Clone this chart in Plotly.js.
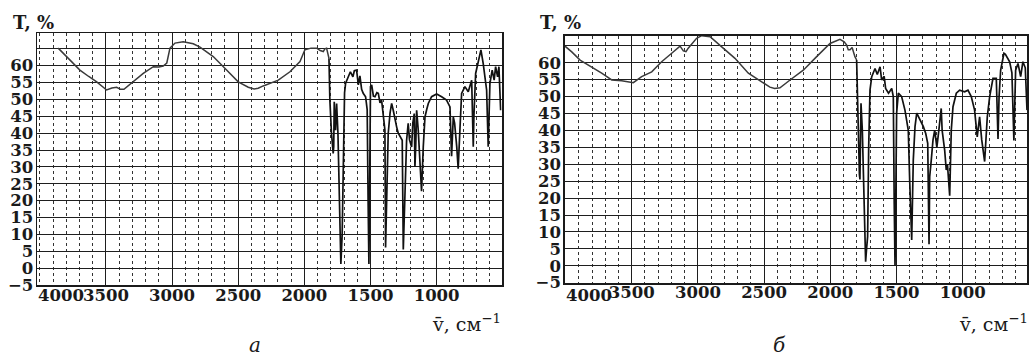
<!DOCTYPE html>
<html>
<head>
<meta charset="utf-8">
<script src="https://cdn.plot.ly/plotly-3.0.1.min.js"></script>
<style>html,body{margin:0;padding:0;background:#fff;}#chart{width:1030px;height:356px;}</style>
</head>
<body>
<div id="chart"></div>
<script>
// ---- Panel "а": broad region (cm^-1, T %) ----
const aBroadNu = [3861,3820,3772,3697,3630,3570,3495,3455,3419,3390,3364,3306,3218,3142,3100,3067,3040,3016,2978,2916,2840,2789,2689,2588,2500,2424,2380,2349,2311,2197,2109,2033,1996,1950,1907,1880,1857,1845,1832,1814];
const aBroadT  = [65.2,63.5,61.7,58.7,56.8,55.2,52.8,53.4,53.6,53.0,53.0,54.8,57.7,59.7,59.6,59.9,60.8,65.2,66.7,67.1,66.5,65.5,62.7,58.7,55.2,53.6,53.1,53.3,54.0,55.7,58.2,61.2,64.7,65.2,65.2,64.5,64.2,65.0,65.2,62.2];
// ---- Panel "а": fingerprint region ----
const aFingerNu = [1814,1807,1795,1782,1778,1774,1764,1756,1746,1735,1724,1714,1706,1696,1688,1668,1652,1643,1633,1622,1605,1592,1580,1567,1555,1537,1525,1518,1512,1506,1500,1491,1478,1466,1452,1441,1428,1416,1400,1391,1386,1380,1366,1352,1340,1328,1315,1302,1290,1277,1260,1252,1240,1227,1215,1205,1189,1180,1169,1164,1158,1151,1139,1126,1114,1101,1088,1075,1063,1038,1000,962,925,899,887,874,864,848,837,824,811,786,761,740,735,723,718,705,680,665,648,622,610,597,580,565,554,539,529,516];
const aFingerT  = [62.2,49.8,40.0,34.0,36.0,49.3,40.9,48.8,40.0,15.0,1.2,10.0,35.0,52.0,54.8,56.7,58.2,57.5,56.7,58.5,58.7,54.3,57.0,53.0,51.8,50.8,47.0,20.0,1.2,25.0,53.8,54.3,51.0,50.8,52.0,51.8,49.0,49.8,45.0,40.9,6.1,20.0,39.9,46.0,48.8,46.8,44.0,41.8,40.0,38.9,37.9,5.5,20.0,37.9,42.9,38.0,35.9,43.0,45.8,30.0,36.0,46.8,40.9,29.0,22.8,35.9,44.8,47.0,48.8,50.8,51.6,50.8,49.8,47.8,33.2,44.8,43.0,36.0,29.5,40.9,51.8,53.8,52.3,55.0,55.7,36.0,45.0,57.7,62.7,64.7,60.7,52.8,36.0,54.8,58.7,55.7,59.7,56.7,59.7,46.8];

// ---- Panel "б": broad region ----
const bBroadNu = [4004,3953,3890,3802,3727,3651,3576,3488,3425,3349,3274,3198,3135,3110,3090,3073,3035,3010,2971,2908,2820,2720,2619,2518,2456,2420,2380,2304,2204,2103,2002,1927,1895,1876,1864,1851,1835,1814,1801];
const bBroadT  = [64.9,63.2,60.8,58.8,56.9,54.9,54.7,54.1,55.9,57.3,60.3,62.8,64.9,63.5,63.3,64.3,66.2,67.2,68.0,67.7,64.7,61.3,56.9,54.4,52.8,52.4,52.6,54.9,57.8,61.8,65.7,66.9,66.2,65.2,63.8,63.8,64.5,61.8,60.8];
// ---- Panel "б": fingerprint region ----
const bFingerNu = [1801,1793,1788,1780,1776,1772,1768,1758,1745,1733,1726,1718,1710,1700,1687,1662,1645,1624,1612,1593,1582,1560,1536,1524,1517,1511,1505,1499,1486,1461,1436,1423,1411,1400,1385,1373,1360,1347,1322,1297,1279,1264,1254,1249,1237,1224,1211,1195,1180,1162,1155,1136,1124,1115,1098,1086,1073,1048,1023,985,960,935,910,890,872,856,834,814,796,771,746,733,725,713,688,677,645,628,613,605,600,582,562,545,527,514];
const bFingerT  = [60.8,49.0,34.2,27.0,25.5,35.0,48.0,40.1,20.0,1.2,5.0,8.6,35.0,51.9,55.9,58.3,56.5,58.8,54.9,56.0,52.4,51.0,52.4,50.0,18.5,0.0,20.0,45.0,51.0,50.0,46.0,42.1,40.1,25.0,7.6,31.3,41.1,45.1,43.1,41.1,39.1,36.2,6.4,26.3,31.3,37.2,40.1,35.0,40.0,46.5,40.0,34.2,28.3,30.0,20.7,40.1,47.0,51.0,51.9,51.4,51.9,50.0,46.0,38.1,44.0,37.2,30.8,44.0,50.0,55.4,55.4,37.5,50.0,57.8,62.8,62.5,60.3,57.0,37.0,50.0,57.8,59.8,55.9,60.3,58.5,46.0];

// ---- Tick labels ----
const xTickVals = [3500,3000,2500,2000,1500,1000];
const xTickText = ['3500','3000','2500','2000','1500','1000'];
const yTickVals = [-5,0,5,10,15,20,25,30,35,40,45,50,55,60,65];
const yTickText = ['\u22125','0','5','10','15','20','25','30','35','40','45','50','55','60',''];

const FONT = 'DejaVu Serif';
const INK = '#1a1a1a';
const tickFont = {family: FONT, size: 16.5, color: INK, weight: 'bold'};

function xAxis(domain, range, anchor) {
  return {
    domain: domain, range: range, anchor: anchor,
    tickmode: 'array', tickvals: xTickVals, ticktext: xTickText,
    ticks: '', tickfont: tickFont, ticklabelstandoff: -6,
    showgrid: true, gridcolor: '#1e1e1e', gridwidth: 1,
    minor: {tickmode: 'linear', tick0: 0, dtick: 100, showgrid: true, griddash: 'dot', gridcolor: '#333', gridwidth: 1, ticks: ''},
    zeroline: false, showline: true, mirror: true, linecolor: INK, linewidth: 1.8,
    fixedrange: true
  };
}
function yAxis(domain, range, anchor) {
  return {
    domain: domain, range: range, anchor: anchor,
    tickmode: 'array', tickvals: yTickVals, ticktext: yTickText,
    ticks: '', tickfont: tickFont, ticklabelstandoff: -1,
    showgrid: true, gridcolor: '#1e1e1e', gridwidth: 1,
    zeroline: false, showline: true, mirror: true, linecolor: INK, linewidth: 1.8,
    fixedrange: true
  };
}

const W = 1030, H = 356;
const px = v => v / W, py = v => (H - v) / H;

const traces = [
  {x: aBroadNu, y: aBroadT, xaxis: 'x', yaxis: 'y', mode: 'lines', line: {color: '#3a3a3a', width: 1.5}, hoverinfo: 'skip'},
  {x: aFingerNu, y: aFingerT, xaxis: 'x', yaxis: 'y', mode: 'lines', line: {color: '#111', width: 1.7}, hoverinfo: 'skip'},
  {x: bBroadNu, y: bBroadT, xaxis: 'x2', yaxis: 'y2', mode: 'lines', line: {color: '#3a3a3a', width: 1.5}, hoverinfo: 'skip'},
  {x: bFingerNu, y: bFingerT, xaxis: 'x2', yaxis: 'y2', mode: 'lines', line: {color: '#111', width: 1.7}, hoverinfo: 'skip'}
];

const annFont = {family: FONT, size: 18, color: INK, weight: 'bold'};
const unitFont = {family: FONT, size: 19, color: INK};
const layout = {
  width: W, height: H,
  margin: {l: 0, r: 0, t: 0, b: 0},
  paper_bgcolor: '#fff', plot_bgcolor: '#fff',
  showlegend: false,
  xaxis: xAxis([37.3 / W, 501.7 / W], [4019, 508], 'y'),
  yaxis: yAxis([(H - 285) / H, (H - 33.3) / H], [-5, 69.6], 'x'),
  xaxis2: xAxis([565 / W, 1027 / W], [4004, 514], 'y2'),
  yaxis2: yAxis([(H - 282.7) / H, (H - 36) / H], [-5, 67.9], 'x2'),
  annotations: [
    {xref: 'x', yref: 'paper', x: 4000, y: py(295.5), xanchor: 'left', yanchor: 'middle', xshift: -4, text: '4000', showarrow: false, font: tickFont},
    {xref: 'x2', yref: 'paper', x: 4000, y: py(295.5), xanchor: 'left', yanchor: 'middle', xshift: -2, text: '4000', showarrow: false, font: tickFont},
    {xref: 'paper', yref: 'paper', x: px(11), y: py(22), xanchor: 'left', yanchor: 'middle', text: 'T, %', showarrow: false, font: annFont},
    {xref: 'paper', yref: 'paper', x: px(538), y: py(23), xanchor: 'left', yanchor: 'middle', text: 'T, %', showarrow: false, font: annFont},
    {xref: 'paper', yref: 'paper', x: px(503), y: py(337), xanchor: 'right', yanchor: 'bottom', text: 'v\u0304, см<sup>\u22121</sup>', showarrow: false, font: unitFont},
    {xref: 'paper', yref: 'paper', x: px(1030), y: py(337), xanchor: 'right', yanchor: 'bottom', text: 'v\u0304, см<sup>\u22121</sup>', showarrow: false, font: unitFont},
    {xref: 'paper', yref: 'paper', x: px(255), y: py(345), xanchor: 'center', yanchor: 'middle', text: '<i>а</i>', showarrow: false, font: {family: FONT, size: 20, color: INK}},
    {xref: 'paper', yref: 'paper', x: px(779), y: py(345), xanchor: 'center', yanchor: 'middle', text: '<i>б</i>', showarrow: false, font: {family: FONT, size: 20, color: INK}}
  ]
};

Plotly.newPlot('chart', traces, layout, {staticPlot: true, displayModeBar: false});
</script>
</body>
</html>
